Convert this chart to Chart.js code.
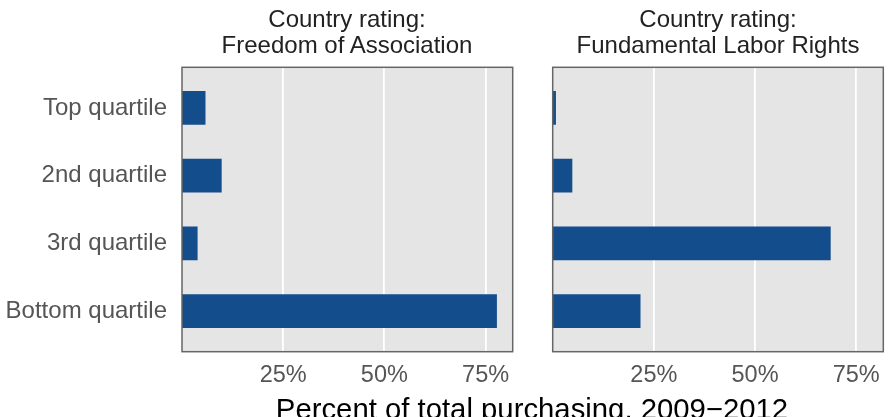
<!DOCTYPE html>
<html>
<head>
<meta charset="utf-8">
<script src="https://cdn.jsdelivr.net/npm/chart.js@4.4.1/dist/chart.umd.min.js"></script>
<style>
  html, body { margin: 0; padding: 0; background: #fff; }
  #wrap { position: relative; width: 894px; height: 417px; overflow: hidden; font-family: "Liberation Sans", Arial, sans-serif; }
  canvas { position: absolute; top: 0; }
  .strip { position: absolute; top: 6px; width: 360px; text-align: center; font-size: 24px; line-height: 26px; color: #222; }
  #xtitle { position: absolute; top: 394px; left: 0; width: 1064px; text-align: center; font-size: 29.3px; line-height: 29px; color: #000; }
</style>
</head>
<body>
<div id="wrap">
  <canvas id="left" width="530" height="417" style="left:0;width:530px;height:417px"></canvas>
  <canvas id="right" width="359" height="417" style="left:535px;width:359px;height:417px"></canvas>
  <div class="strip" style="left:167px">Country rating:<br>Freedom of Association</div>
  <div class="strip" style="left:538px">Country rating:<br>Fundamental Labor Rights</div>
  <div id="xtitle">Percent of total purchasing, 2009−2012</div>
</div>
<script>
// quartile groups, top to bottom
const categories = ['Top quartile', '2nd quartile', '3rd quartile', 'Bottom quartile'];
// percent of total purchasing per panel
const freedomOfAssociation = [5.8, 9.8, 3.85, 77.8];
const laborRights = [0.8, 4.85, 68.7, 21.7];
const xTicks = [25, 50, 75];
const xMax = 81.7;

const barColor = '#134d8b';

// grey panel background and border around the plot area
const panelPlugin = {
  id: 'panel',
  beforeDraw(chart) {
    const { ctx, chartArea: a } = chart;
    ctx.save();
    ctx.fillStyle = '#e5e5e5';
    ctx.fillRect(a.left, a.top, a.right - a.left, a.bottom - a.top);
    ctx.restore();
  },
  afterDraw(chart) {
    const { ctx, chartArea: a } = chart;
    ctx.save();
    ctx.strokeStyle = '#666';
    ctx.lineWidth = 1.5;
    ctx.strokeRect(a.left, a.top, a.right - a.left, a.bottom - a.top);
    ctx.restore();
  }
};

function makePanel(canvasId, values, opts) {
  const ctx = document.getElementById(canvasId).getContext('2d');
  return new Chart(ctx, {
    type: 'bar',
    data: {
      datasets: [{
        data: values.map((v, i) => ({ x: v, y: i })),
        backgroundColor: barColor,
        borderWidth: 0,
        barPercentage: 0.5,
        categoryPercentage: 1
      }]
    },
    options: {
      indexAxis: 'y',
      responsive: false,
      animation: false,
      layout: { padding: { left: 0, right: opts.padRight, top: 67.3, bottom: 0 } },
      plugins: { legend: { display: false }, tooltip: { enabled: false } },
      scales: {
        x: {
          type: 'linear',
          min: 0,
          max: xMax,
          offset: false,
          afterBuildTicks: s => { s.ticks = xTicks.map(v => ({ value: v })); },
          afterFit: s => { s.height = 65.3; },
          grid: { color: '#ffffff', lineWidth: 1.8, drawTicks: false },
          border: { display: false },
          ticks: {
            padding: 10,
            color: '#555',
            font: { family: 'Liberation Sans', size: 23.5 },
            callback: v => v + '%'
          }
        },
        y: {
          type: 'linear',
          min: -0.6,
          max: 3.6,
          reverse: true,
          offset: false,
          afterBuildTicks: s => { s.ticks = categories.map((c, i) => ({ value: i })); },
          afterFit: s => { s.width = opts.yWidth; },
          grid: { display: false, drawTicks: false },
          border: { display: false },
          ticks: {
            display: opts.showLabels,
            padding: 15,
            color: '#555',
            font: { family: 'Liberation Sans', size: 24 },
            callback: v => categories[v]
          }
        }
      }
    },
    plugins: [panelPlugin]
  });
}

makePanel('left', freedomOfAssociation, { yWidth: 182, padRight: 17.3, showLabels: true });
makePanel('right', laborRights, { yWidth: 17.7, padRight: 10.7, showLabels: false });
</script>
</body>
</html>
